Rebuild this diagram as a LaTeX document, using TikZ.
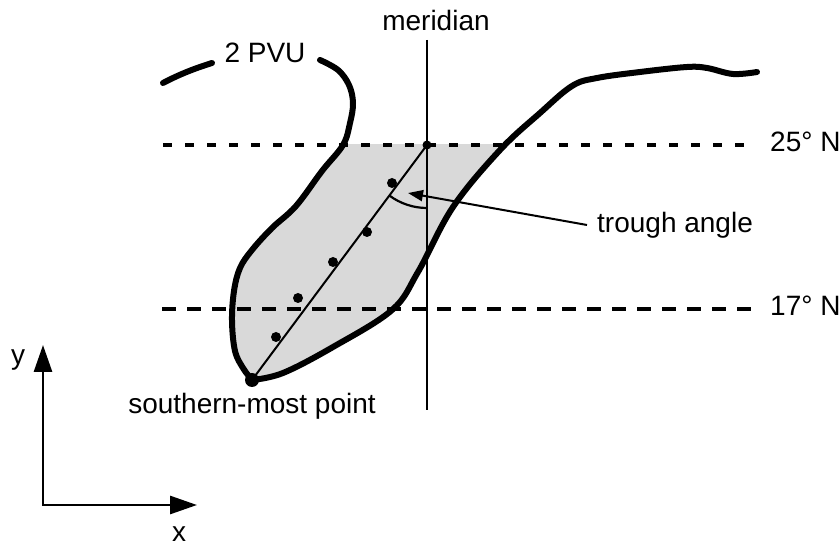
\documentclass[tikz,border=0pt]{standalone}
\usepackage{fontspec}
\setmainfont{Liberation Sans}
\usetikzlibrary{arrows.meta, positioning}

% the 2 PVU contour, west side down to the southern-most point and back up east
\newcommand{\pvuline}{plot[smooth, tension=0.6] coordinates {(320,486) (338,476) (349,461) (353,443) (350,423) (343,401) (322,375) (296,340) (272,318) (252,296) (240,278) (234,255) (232,225) (235,195) (243,178) (252,166)}
    -- plot[smooth, tension=0.6] coordinates {(252,166) (283,173) (333,199) (392,236) (418,274) (453,339) (500,396) (540,433) (572,460) (597,468) (640,474) (687,479) (707,478) (733,472) (757,474)}}

\begin{document}
\begin{tikzpicture}[x=1pt, y=1pt,
    lbl/.style={font=\fontsize{28}{31}\selectfont, inner sep=0pt},
    contour/.style={line width=6pt, line cap=round, line join=round},
    thin line/.style={line width=2pt}]
    \useasboundingbox (0,0) rectangle (840,546);

    \coordinate (top) at (427,401);
    \coordinate (south) at (252,166);

    % shaded trough below 25 N
    \begin{scope}
        \clip (0,0) rectangle (840,401);
        \fill[black!15] \pvuline -- cycle;
    \end{scope}

    % latitudes
    \node[lbl, anchor=west] (lat25) at (770,404) {25° N};
    \node[lbl, anchor=west] (lat17) at (770,240) {17° N};
    \coordinate (w25) at (163,401);
    \coordinate (w17) at (162,237);
    \draw[line width=4pt, dash pattern=on 9pt off 13pt, shorten >=17pt] (w25) -- (w25 -| lat25.west);
    \draw[line width=4.5pt, dash pattern=on 14pt off 11pt, shorten >=13pt] (w17) -- (w17 -| lat17.west);

    % contour
    \node[lbl] (pvu) at (265,493) {2 PVU};
    \draw[contour] (163,463) .. controls (180,472) and (196,478) .. (212,483);
    \draw[contour] \pvuline;

    % meridian
    \node[lbl] (mer) at (436,526) {meridian};
    \coordinate (merN) at (427,506);
    \coordinate (merS) at (427,136);
    \draw[line width=2.2pt] (merN) -- (merS);

    % trough axis and points
    \draw[thin line] (south) -- (top);
    \foreach \p in {(392,363), (367,314), (333,284), (298,248), (276,209)}
        \fill \p circle (5pt);
    \fill (south) circle (7pt);
    \fill (top) circle (4.5pt);
    \node[lbl, below=13pt of south] (southlbl) {southern-most point};

    % trough angle
    \draw[line width=2.2pt] ([shift={(233.3:63)}]top) arc[start angle=233.3, end angle=270, radius=63];
    \node[lbl, anchor=west] (trough) at (597,321) {trough angle};
    \coordinate (tip) at (408,353);
    \draw[thin line, -{Triangle[length=15pt, width=11pt]}] ([xshift=-10pt]trough.west) -- (tip);

    % axes
    \coordinate (orig) at (43,41);
    \coordinate (ytip) at (43,201);
    \coordinate (xtip) at (197,41);
    \draw[line width=2.8pt, {Triangle[length=27pt, width=18pt]}-{Triangle[length=27pt, width=18pt]}] (ytip) -- (orig) -- (xtip);
    \node[lbl] (ylab) at (18,186) {y};
    \node[lbl] (xlab) at (179,12) {x};
\end{tikzpicture}
\end{document}
